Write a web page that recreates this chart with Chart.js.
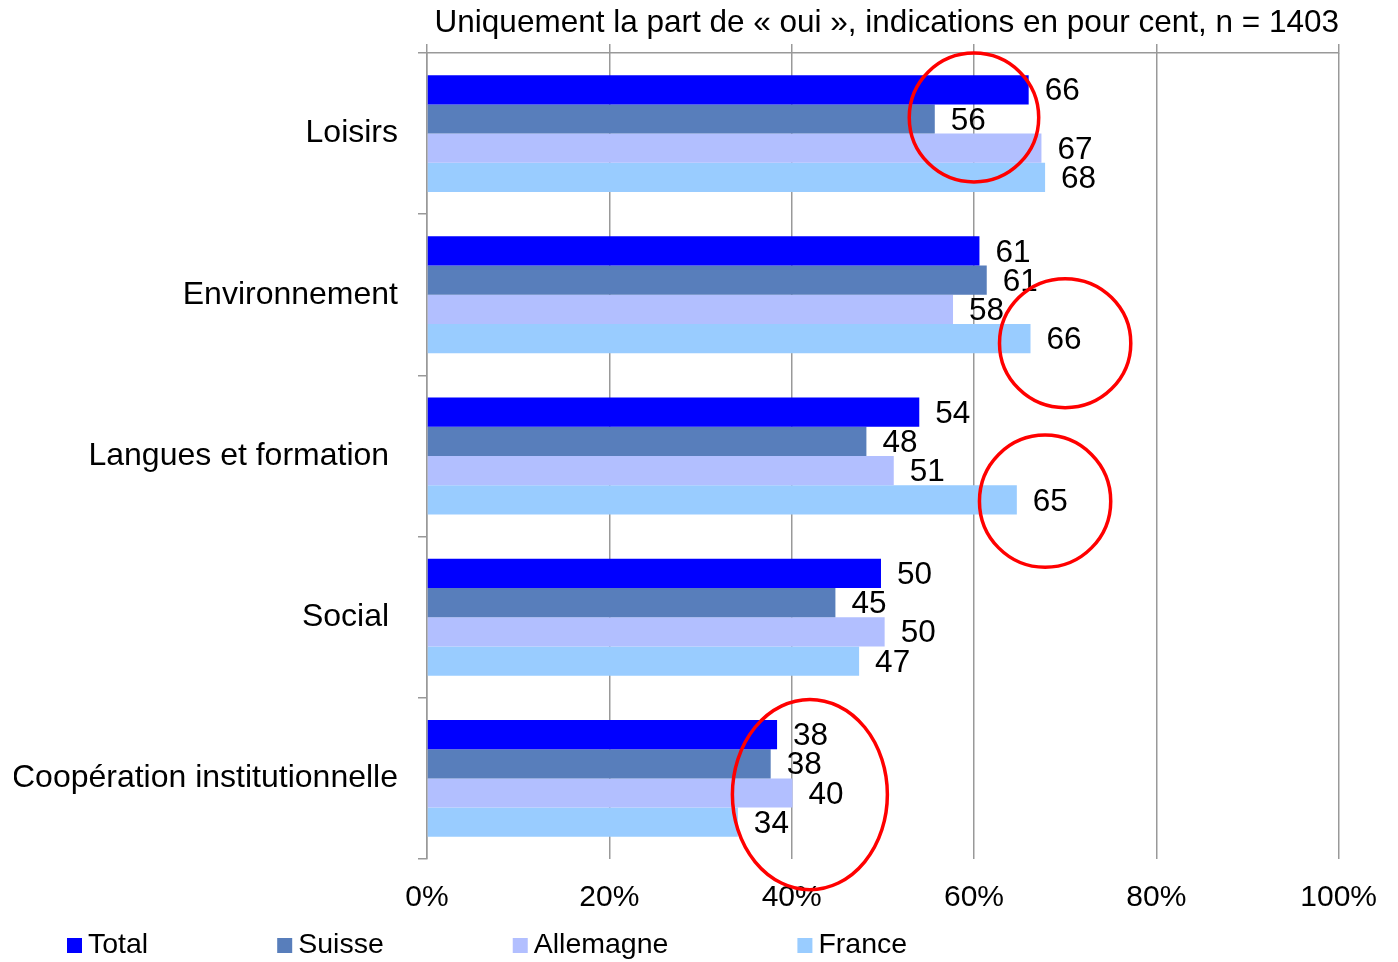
<!DOCTYPE html>
<html>
<head>
<meta charset="utf-8">
<script src="https://cdn.jsdelivr.net/npm/chart.js@4.4.1/dist/chart.umd.min.js"></script>
<style>
  body { margin: 0; background: #fff; }
  #wrap { width: 1398px; height: 962px; position: relative; }
</style>
</head>
<body>
<div id="wrap"><canvas id="myChart"></canvas></div>
<script>
const categories = ["Loisirs", "Environnement", "Langues et formation ", "Social ", "Coopération institutionnelle"]
const seriesNames = ["Total", "Suisse", "Allemagne", "France"]
const totalValues = [66.0, 60.6, 54.0, 49.8, 38.4]
const suisseValues = [55.7, 61.4, 48.2, 44.8, 37.7]
const allemagneValues = [67.4, 57.7, 51.2, 50.2, 40.1]
const franceValues = [67.8, 66.2, 64.7, 47.4, 34.1]
const seriesColors = ["#0000ff", "#587ebb", "#b2bfff", "#99ccff"]
const xTicks = [0, 20, 40, 60, 80, 100]
const titleText = "Uniquement la part de « oui », indications en pour cent, n = 1403"

// red highlight ellipses, in data units (x = percent, y = category index)
const circleX = [60, 70, 67.8, 42]
const circleY = [-0.1, 1.3, 2.28, 4.1]
const circleRx = [7.1, 7.2, 7.2, 8.5]
const circleRy = [0.4, 0.4, 0.41, 0.59]

const FONT = "'Liberation Sans', Arial, sans-serif"
const GRID = "#999999"

const valueLabels = {
  id: "valueLabels",
  afterDatasetsDraw(chart) {
    const ctx = chart.ctx
    ctx.save()
    ctx.font = "31.5px " + FONT
    ctx.fillStyle = "#000"
    ctx.textAlign = "left"
    ctx.textBaseline = "middle"
    chart.data.datasets.forEach((ds, i) => {
      chart.getDatasetMeta(i).data.forEach((bar, j) => {
        ctx.fillText(Math.round(ds.data[j]), bar.x + 16, bar.y + 2)
      })
    })
    ctx.restore()
  }
}

const redCircles = {
  id: "redCircles",
  afterDraw(chart) {
    const ctx = chart.ctx
    const xs = chart.scales.x
    const ys = chart.scales.y
    ctx.save()
    ctx.strokeStyle = "#ff0000"
    ctx.lineWidth = 3.5
    circleX.forEach((cx, i) => {
      const px = xs.getPixelForValue(cx)
      const py = ys.getPixelForValue(circleY[i])
      const rx = xs.getPixelForValue(cx + circleRx[i]) - px
      const ry = ys.getPixelForValue(circleY[i] + circleRy[i]) - py
      ctx.beginPath()
      ctx.ellipse(px, py, rx, ry, 0, 0, Math.PI * 2)
      ctx.stroke()
    })
    ctx.restore()
  }
}

const topTitle = {
  id: "topTitle",
  afterDraw(chart) {
    const ctx = chart.ctx
    const a = chart.chartArea
    ctx.save()
    ctx.font = "31.5px " + FONT
    ctx.fillStyle = "#000"
    ctx.textAlign = "center"
    ctx.textBaseline = "middle"
    ctx.fillText(titleText, (a.left + a.right) / 2 + 4, 23)
    ctx.restore()
  }
}

const bottomLegend = {
  id: "bottomLegend",
  afterDraw(chart) {
    const ctx = chart.ctx
    ctx.save()
    ctx.font = "28.5px " + FONT
    ctx.textBaseline = "middle"
    ctx.textAlign = "left"
    let x = 67
    const y = chart.height - 17
    chart.data.datasets.forEach((ds) => {
      ctx.fillStyle = ds.backgroundColor
      ctx.fillRect(x, y - 7, 15, 15)
      ctx.fillStyle = "#000"
      ctx.fillText(ds.label, x + 21, y)
      x += 21 + ctx.measureText(ds.label).width + 129
    })
    ctx.restore()
  }
}

const seriesValues = [totalValues, suisseValues, allemagneValues, franceValues]

const config = {
  type: "bar",
  data: {
    labels: categories,
    datasets: seriesNames.map((name, i) => ({
      label: name,
      data: seriesValues[i],
      backgroundColor: seriesColors[i],
      borderWidth: 0,
      categoryPercentage: 0.725,
      barPercentage: 1
    }))
  },
  options: {
    indexAxis: "y",
    responsive: true,
    maintainAspectRatio: false,
    animation: false,
    layout: { padding: { left: 14, right: 59, top: 44, bottom: 41 } },
    plugins: {
      legend: { display: false },
      tooltip: { enabled: false },
      title: { display: false }
    },
    scales: {
      x: {
        position: "bottom",
        min: 0,
        max: 100,
        afterBuildTicks(s) { s.ticks = xTicks.map(v => ({ value: v })) },
        afterFit(s) { s.height = 62 },
        grid: { color: GRID, lineWidth: 1.5, drawTicks: false },
        border: { display: false },
        ticks: {
          padding: 21,
          color: "#000",
          font: { family: FONT, size: 30 },
          callback: v => v + "%"
        }
      },
      x2: {
        position: "top",
        min: 0,
        max: 100,
        afterBuildTicks(s) { s.ticks = xTicks.map(v => ({ value: v })) },
        afterFit(s) { s.height = 9 },
        grid: { color: GRID, lineWidth: 1.5, drawOnChartArea: false, drawTicks: true, tickLength: 9 },
        border: { display: true, color: GRID, width: 1.5 },
        ticks: { display: false }
      },
      y: {
        afterFit(s) { s.width = 413 },
        grid: { color: GRID, lineWidth: 1.5, drawOnChartArea: false, drawTicks: true, tickLength: 9, offset: true },
        border: { display: true, color: GRID, width: 1.5 },
        ticks: {
          padding: 20,
          color: "#000",
          font: { family: FONT, size: 32 }
        }
      }
    }
  },
  plugins: [valueLabels, redCircles, topTitle, bottomLegend]
}

const salesChart = new Chart(document.getElementById("myChart"), config)
</script>
</body>
</html>
